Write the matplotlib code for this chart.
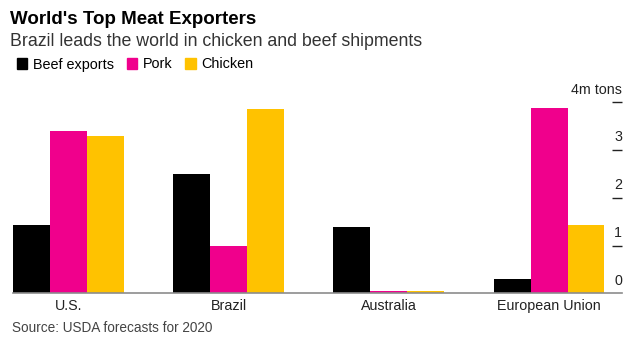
import numpy as np
import matplotlib
matplotlib.use("Agg")
import matplotlib.pyplot as plt
from matplotlib.patches import Patch

# data (million tons)
countries = ["U.S.", "Brazil", "Australia", "European Union"]
beef = [1.42, 2.49, 1.39, 0.30]
pork = [3.39, 0.99, 0.04, 3.89]
chicken = [3.30, 3.87, 0.04, 1.44]
series_names = ["Beef exports", "Pork", "Chicken"]
colors = ["#000000", "#f0008c", "#ffc200"]
y_ticks = [0, 1, 2, 3, 4]

plt.rcParams["font.family"] = ["Liberation Sans", "DejaVu Sans"]

fig = plt.figure(figsize=(6.37, 3.48), dpi=100)
ax = fig.add_axes([12.7 / 637, 54.7 / 348, (622 - 12.7) / 637, (293.3 - 102.3) / 348])

x = np.arange(len(countries))
w = 0.2305
for i, (vals, c) in enumerate(zip([beef, pork, chicken], colors)):
    ax.bar(x + (i - 1) * w, vals, width=w, color=c, linewidth=0)

ax.set_xlim(-1.5 * w, 3.455)
ax.set_ylim(0, 4)
for s in ["top", "left", "right"]:
    ax.spines[s].set_visible(False)
ax.spines["bottom"].set_color("#8c8c8c")
ax.spines["bottom"].set_linewidth(1.2)

ax.set_xticks(x)
ax.set_xticklabels(countries, fontsize=10.3, color="#222222")
ax.tick_params(axis="x", length=0, pad=4)

ax.yaxis.tick_right()
ax.set_yticks(y_ticks[1:])
ax.set_yticklabels([])
ax.tick_params(axis="y", direction="in", length=7.5, width=1, color="#222222")

# value labels sit just above each tick mark
for t in y_ticks:
    lab = "4m tons" if t == 4 else str(t)
    ax.text(1.0, t + 0.12, lab, transform=ax.get_yaxis_transform(), ha="right", va="bottom",
            fontsize=10.3, color="#222222")

fig.text(10 / 637, 1 - 20 / 348, "World's Top Meat Exporters", fontsize=13.5, fontweight="bold",
         va="center", ha="left", color="#000000")
fig.text(10 / 637, 1 - 41 / 348, "Brazil leads the world in chicken and beef shipments",
         fontsize=12.8, va="center", ha="left", color="#333333")

handles = [Patch(color=c) for c in colors]
fig.legend(handles, series_names, loc="center left", bbox_to_anchor=(4 / 637, 1 - 64.5 / 348),
           ncol=3, frameon=False, fontsize=10.4, handlelength=0.7, handleheight=0.7,
           handletextpad=0.4, columnspacing=0.9)

fig.text(12 / 637, 1 - 328 / 348, "Source: USDA forecasts for 2020", fontsize=9.8,
         va="center", ha="left", color="#444444")

fig.savefig("out.png", dpi=100)
